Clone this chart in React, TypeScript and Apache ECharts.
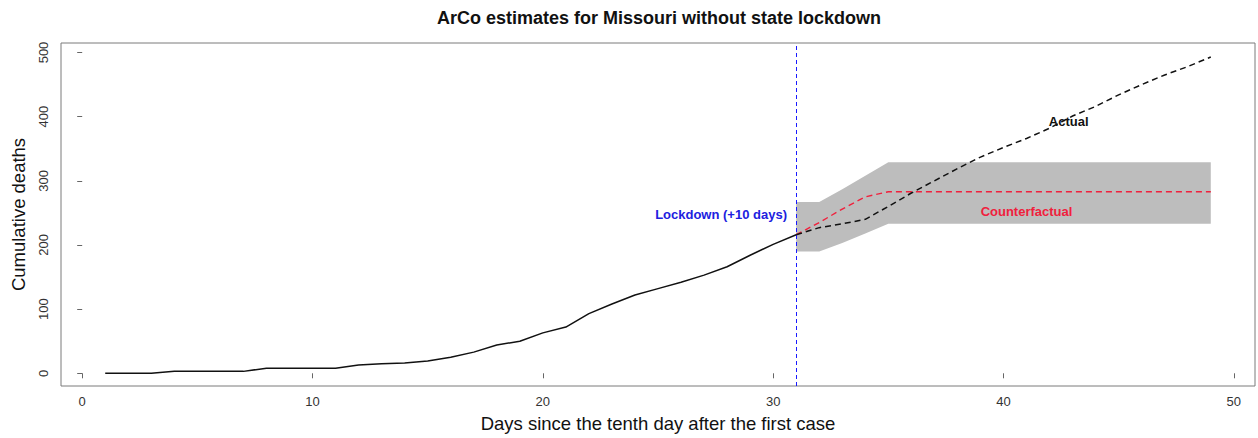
import React, { useEffect, useRef } from "react";
import * as echarts from "echarts";

// Observed cumulative deaths, days 1..31 (pre-lockdown+10)
const preDays = [1,2,3,4,5,6,7,8,9,10,11,12,13,14,15,16,17,18,19,20,21,22,23,24,25,26,27,28,29,30,31];
const preDeaths = [0,0,0,3,3,3,3,8,8,8,8,13,15,16,19,25,33,44,50,63,72,93,108,122,132,142,153,166,184,201,216];

// Post-lockdown period, days 31..49
const postDays = [31,32,33,34,35,36,37,38,39,40,41,42,43,44,45,46,47,48,49];
const postActual = [216,227,233,240,260,281,300,319,337,352,366,382,401,416,434,450,465,478,493];
const counterfactual = [216,235,256,275,283,283,283,283,283,283,283,283,283,283,283,283,283,283,283];
const bandLower = [190,190,203,218,233,233,233,233,233,233,233,233,233,233,233,233,233,233,233];
const bandUpper = [267,267,287,308,329,329,329,329,329,329,329,329,329,329,329,329,329,329,329];

const xTicks = [0, 10, 20, 30, 40, 50];
const yTicks = [0, 100, 200, 300, 400, 500];
const lockdownDay = 31;

const FONT = "'Liberation Sans', Arial, Helvetica, sans-serif";

export default function App() {
  const ref = useRef<HTMLDivElement>(null);
  useEffect(() => {
    if (!ref.current) return;
    const chart = echarts.init(ref.current, null, { renderer: "svg" });
    const pair = (xs: number[], ys: number[]) => xs.map((x, i) => [x, ys[i]]);
    const bandData = postDays.map((d, i) => [d, bandLower[i], bandUpper[i]]);
    const option: any = {
      animation: false,
      backgroundColor: "#ffffff",
      textStyle: { fontFamily: FONT },
      grid: {
        left: 61,
        right: 3,
        top: 43,
        bottom: 51,
        show: true,
        borderColor: "#7a7a7a",
        borderWidth: 1,
        backgroundColor: "transparent",
      },
      graphic: [
        {
          type: "text",
          x: 659,
          y: 18,
          style: {
            text: "ArCo estimates for Missouri without state lockdown",
            fontFamily: FONT,
            fontWeight: "bold",
            fontSize: 18,
            fill: "#111",
            textAlign: "center",
            textVerticalAlign: "middle",
          },
        },
      ],
      xAxis: {
        type: "value",
        min: -0.92,
        max: 50.92,
        name: "Days since the tenth day after the first case",
        nameLocation: "middle",
        nameGap: 28,
        nameTextStyle: { fontSize: 18.5, color: "#111", fontFamily: FONT },
        axisLine: { show: false },
        axisTick: { show: true, customValues: xTicks, length: 5, lineStyle: { color: "#666" } },
        axisLabel: { customValues: xTicks, fontSize: 13, color: "#333", margin: 9, fontFamily: FONT },
        splitLine: { show: false },
      },
      yAxis: {
        type: "value",
        min: -19.8,
        max: 514.8,
        name: "Cumulative deaths",
        nameLocation: "middle",
        nameGap: 33,
        nameRotate: 90,
        nameTextStyle: { fontSize: 18.5, color: "#111", fontFamily: FONT },
        axisLine: { show: false },
        axisTick: { show: true, customValues: yTicks, length: 5, lineStyle: { color: "#666" } },
        axisLabel: { customValues: yTicks, fontSize: 13, color: "#333", margin: 11, rotate: 90, fontFamily: FONT },
        splitLine: { show: false },
      },
      series: [
        {
          type: "custom",
          name: "Band",
          data: bandData,
          silent: true,
          z: 1,
          clip: true,
          renderItem: (params: any, api: any) => {
            if (params.dataIndex !== 0) return null;
            const upperPts = bandData.map((d) => api.coord([d[0], d[2]]));
            const lowerPts = bandData.map((d) => api.coord([d[0], d[1]])).reverse();
            return {
              type: "polygon",
              shape: { points: upperPts.concat(lowerPts) },
              style: { fill: "#bdbdbd", stroke: "none" },
            };
          },
        },
        {
          type: "line",
          name: "Counterfactual",
          data: pair(postDays, counterfactual),
          symbol: "none",
          lineStyle: { color: "#f0203c", width: 1.4, type: [6, 4] },
          z: 3,
          markPoint: {
            symbol: "circle",
            symbolSize: 0,
            data: [
              {
                coord: [41, 252],
                label: {
                  show: true,
                  position: "inside",
                  formatter: "Counterfactual",
                  color: "#f0203c",
                  fontWeight: "bold",
                  fontSize: 13,
                  fontFamily: FONT,
                },
              },
            ],
          },
        },
        {
          type: "line",
          name: "Observed",
          data: pair(preDays, preDeaths),
          symbol: "none",
          lineStyle: { color: "#111", width: 1.5 },
          z: 4,
          markLine: {
            silent: true,
            symbol: "none",
            label: { show: false },
            lineStyle: { color: "#1a1aff", width: 1, type: [4, 3] },
            data: [{ xAxis: lockdownDay }],
          },
          markPoint: {
            symbol: "circle",
            symbolSize: 0,
            data: [
              {
                coord: [30.6, 247],
                label: {
                  show: true,
                  position: "left",
                  distance: 0,
                  formatter: "Lockdown (+10 days)",
                  color: "#2020e0",
                  fontWeight: "bold",
                  fontSize: 13,
                  fontFamily: FONT,
                },
              },
            ],
          },
        },
        {
          type: "line",
          name: "Actual",
          data: pair(postDays, postActual),
          symbol: "none",
          lineStyle: { color: "#111", width: 1.5, type: [6, 4] },
          z: 5,
          markPoint: {
            symbol: "circle",
            symbolSize: 0,
            data: [
              {
                coord: [42.83, 392],
                label: {
                  show: true,
                  position: "inside",
                  formatter: "Actual",
                  color: "#111",
                  fontWeight: "bold",
                  fontSize: 13,
                  fontFamily: FONT,
                },
              },
            ],
          },
        },
      ],
    };
    chart.setOption(option);
    return () => chart.dispose();
  }, []);
  return (
    <div
      ref={ref}
      style={{ position: "absolute", left: 0, top: 0, width: 1258, height: 438 }}
    />
  );
}
